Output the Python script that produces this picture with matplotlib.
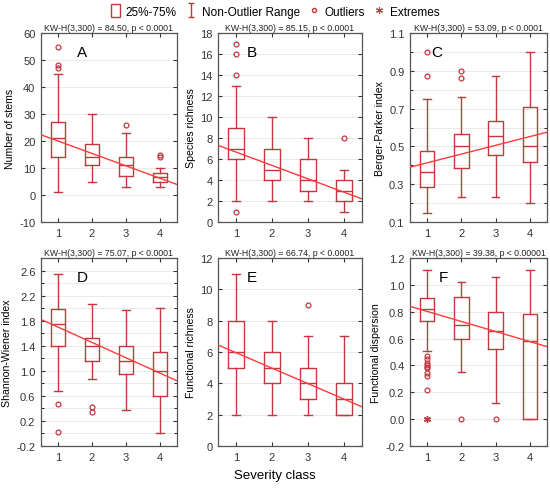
import numpy as np
import matplotlib
matplotlib.use("Agg")
import matplotlib.pyplot as plt
from matplotlib.lines import Line2D
from matplotlib.patches import Rectangle
from matplotlib.path import Path

plt.rcParams['font.family'] = ['Liberation Sans', 'DejaVu Sans']

# severity classes
classes = [1, 2, 3, 4]

# box stats per panel: (q1, median, q3, whisker low, whisker high)
stems_q1 = [14, 11, 7, 5]
stems_med = [21, 14, 11, 6.5]
stems_q3 = [27, 19, 14, 8]
stems_lo = [1, 5, 3, 3]
stems_hi = [45, 30, 23, 10]
stems_out = [[55, 48, 47], [], [26], [14, 15]]
stems_ext = [[], [], [], []]
stems_line = [22.3, 3.9]

rich_q1 = [6, 4, 3, 2]
rich_med = [7, 5, 4, 3]
rich_q3 = [9, 7, 6, 4]
rich_lo = [2, 2, 2, 1]
rich_hi = [13, 10, 8, 5]
rich_out = [[17, 16, 14, 1], [], [], [8]]
rich_ext = [[], [], [], []]
rich_line = [7.3, 2.2]

bp_q1 = [0.285, 0.385, 0.455, 0.415]
bp_med = [0.365, 0.50, 0.555, 0.50]
bp_q3 = [0.475, 0.565, 0.635, 0.71]
bp_lo = [0.15, 0.23, 0.23, 0.20]
bp_hi = [0.75, 0.76, 0.875, 1.0]
bp_out = [[1.0, 0.875], [0.90, 0.86], [], []]
bp_ext = [[], [], [], []]
bp_line = [0.39, 0.575]

sw_q1 = [1.40, 1.15, 0.95, 0.60]
sw_med = [1.75, 1.40, 1.16, 1.00]
sw_q3 = [1.98, 1.53, 1.39, 1.30]
sw_lo = [0.68, 0.87, 0.38, 0.01]
sw_hi = [2.54, 2.06, 1.97, 2.00]
sw_out = [[0.47, 0.02], [0.42, 0.34], [], []]
sw_ext = [[], [], [], []]
sw_line = [1.82, 0.84]

fr_q1 = [5, 4, 3, 2]
fr_med = [6, 5, 4, 3]
fr_q3 = [8, 6, 5, 4]
fr_lo = [2, 2, 2, 2]
fr_hi = [11, 8, 7, 7]
fr_out = [[], [], [9], []]
fr_ext = [[], [], [], []]
fr_line = [6.45, 2.5]

fd_q1 = [0.73, 0.60, 0.52, 0.00]
fd_med = [0.82, 0.70, 0.66, 0.58]
fd_q3 = [0.90, 0.91, 0.80, 0.78]
fd_lo = [0.51, 0.35, 0.12, 0.00]
fd_hi = [1.11, 1.02, 1.06, 1.11]
fd_out = [[0.47, 0.45, 0.42, 0.40, 0.39, 0.38, 0.34, 0.32, 0.22], [0.0], [0.0], []]
fd_ext = [[0.0], [], [], []]
fd_line = [0.84, 0.54]

panels = [
    dict(letter="A", ylabel="Number of stems", kw="KW-H(3,300) = 84.50, p < 0.0001",
         q1=stems_q1, med=stems_med, q3=stems_q3, lo=stems_lo, hi=stems_hi,
         out=stems_out, ext=stems_ext, line=stems_line,
         ylim=(-10, 60), major=np.arange(-10, 61, 10), minor=[], fmt="{:.0f}", lx=1.55),
    dict(letter="B", ylabel="Species richness", kw="KW-H(3,300) = 85.15, p < 0.0001",
         q1=rich_q1, med=rich_med, q3=rich_q3, lo=rich_lo, hi=rich_hi,
         out=rich_out, ext=rich_ext, line=rich_line,
         ylim=(0, 18), major=np.arange(0, 19, 2), minor=[], fmt="{:.0f}", lx=1.3),
    dict(letter="C", ylabel="Berger-Parker index", kw="KW-H(3,300) = 53.09, p < 0.0001",
         q1=bp_q1, med=bp_med, q3=bp_q3, lo=bp_lo, hi=bp_hi,
         out=bp_out, ext=bp_ext, line=bp_line,
         ylim=(0.1, 1.1), major=np.arange(0.1, 1.11, 0.2), minor=np.arange(0.2, 1.01, 0.2),
         fmt="{:.1f}", lx=1.12),
    dict(letter="D", ylabel="Shannon-Wiener index", kw="KW-H(3,300) = 75.07, p < 0.0001",
         q1=sw_q1, med=sw_med, q3=sw_q3, lo=sw_lo, hi=sw_hi,
         out=sw_out, ext=sw_ext, line=sw_line,
         ylim=(-0.2, 2.8), major=np.arange(-0.2, 2.61, 0.4), minor=np.arange(0.0, 2.81, 0.4),
         fmt="{:.1f}", lx=1.55),
    dict(letter="E", ylabel="Functional richness", kw="KW-H(3,300) = 66.74, p < 0.0001",
         q1=fr_q1, med=fr_med, q3=fr_q3, lo=fr_lo, hi=fr_hi,
         out=fr_out, ext=fr_ext, line=fr_line,
         ylim=(0, 12), major=np.arange(0, 13, 2), minor=[], fmt="{:.0f}", lx=1.3),
    dict(letter="F", ylabel="Functional dispersion", kw="KW-H(3,300) = 39.38, p < 0.00001",
         q1=fd_q1, med=fd_med, q3=fd_q3, lo=fd_lo, hi=fd_hi,
         out=fd_out, ext=fd_ext, line=fd_line,
         ylim=(-0.2, 1.2), major=np.arange(-0.2, 1.21, 0.2), minor=[], fmt="{:.1f}", lx=1.35),
]

W, H = 550, 489
col_x = [(41, 177), (218, 362), (410, 547)]
row_y = [(34, 223), (259, 447)]

box_col = "#C0393F"
line_col = "#FF3B3B"
asterisk = (6, 2, 0)

fig = plt.figure(figsize=(W / 100, H / 100), dpi=100)

for i, p in enumerate(panels):
    x0, x1 = col_x[i % 3]
    y0, y1 = row_y[i // 3]
    ax = fig.add_axes([x0 / W, 1 - y1 / H, (x1 - x0) / W, (y1 - y0) / H])

    stats = []
    for k in range(4):
        stats.append(dict(med=p["med"][k], q1=p["q1"][k], q3=p["q3"][k],
                          whislo=p["lo"][k], whishi=p["hi"][k], fliers=p["out"][k]))
    ax.bxp(stats, positions=classes, widths=0.42, showfliers=True,
           boxprops=dict(color=box_col, lw=1.0),
           medianprops=dict(color=box_col, lw=1.0),
           whiskerprops=dict(color=box_col, lw=1.0),
           capprops=dict(color=box_col, lw=1.0),
           capwidths=0.22,
           flierprops=dict(marker="o", markersize=3.5, markerfacecolor="none",
                           markeredgecolor=box_col, markeredgewidth=0.9))
    for k in range(4):
        if p["ext"][k]:
            ax.plot([classes[k]] * len(p["ext"][k]), p["ext"][k], ls="none",
                    marker=asterisk, markersize=5, markeredgewidth=1.0, color=box_col)

    ax.plot([0.5, 4.5], p["line"], color=line_col, lw=1.0, zorder=3)

    ax.set_xlim(0.5, 4.5)
    ax.set_ylim(*p["ylim"])
    ax.set_xticks(classes)
    ax.set_xticklabels([str(c) for c in classes])
    ax.set_yticks(p["major"])
    ax.set_yticklabels([p["fmt"].format(v) if abs(v) > 1e-9 else p["fmt"].format(0) for v in p["major"]])
    if len(p["minor"]):
        ax.set_yticks(p["minor"], minor=True)
    ax.grid(axis="y", which="both", color="#E6E6E6", lw=0.6)
    ax.set_axisbelow(True)
    ax.tick_params(direction="in", length=3, width=0.8, labelsize=8, top=True, right=True,
                   colors="#333333", pad=4)
    ax.tick_params(which="minor", direction="in", length=2, width=0.6, right=True, left=True)
    for s in ax.spines.values():
        s.set_color("#555555")
        s.set_linewidth(0.9)
    ax.set_ylabel(p["ylabel"], fontsize=7.6, labelpad=3)
    ax.set_title(p["kw"], fontsize=6.3, pad=2, color="#222222")
    ytop = p["ylim"][1] - 0.1 * (p["ylim"][1] - p["ylim"][0])
    ax.text(p["lx"], ytop, p["letter"], fontsize=11, ha="left", va="center")

fig.text(0.5, 0.027, "Severity class", ha="center", va="center", fontsize=9.5)

# legend
ibar = Path([(-0.5, 1), (0.5, 1), (0, 1), (0, -1), (-0.5, -1), (0.5, -1)],
            [Path.MOVETO, Path.LINETO, Path.MOVETO, Path.LINETO, Path.MOVETO, Path.LINETO])
handles = [
    Rectangle((0, 0), 1, 1, facecolor="white", edgecolor=box_col, lw=1.0),
    Line2D([], [], ls="none", marker=ibar, markersize=10, markeredgecolor=box_col,
           markerfacecolor="none", markeredgewidth=1.0),
    Line2D([], [], ls="none", marker="o", markersize=3, markerfacecolor="none",
           markeredgecolor=box_col),
    Line2D([], [], ls="none", marker=asterisk, markersize=5, markeredgewidth=0.8,
           color=box_col),
]
labels = ["25%-75%", "Non-Outlier Range", "Outliers", "Extremes"]
fig.legend(handles, labels, loc="center", bbox_to_anchor=(0.5, 1 - 12 / H), ncol=4,
           frameon=False, fontsize=8.5, handlelength=0.8, handleheight=1.2,
           handletextpad=0.5, columnspacing=0.8, borderaxespad=0)

fig.savefig("out.png", dpi=100)
